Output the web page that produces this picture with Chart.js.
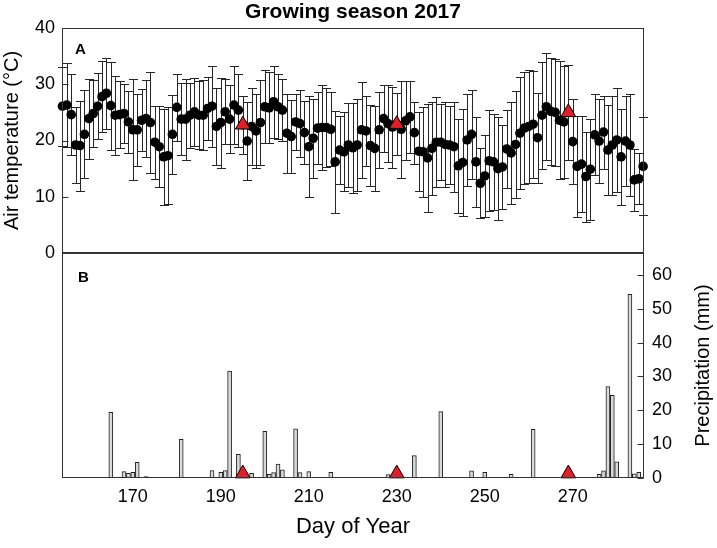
<!DOCTYPE html>
<html>
<head>
<meta charset="utf-8">
<script src="https://cdn.jsdelivr.net/npm/chart.js@4.4.1/dist/chart.umd.min.js"></script>
<style>
  body { margin: 0; background: #fff; }
  #wrap { position: relative; width: 717px; height: 548px; overflow: hidden; }
  canvas { position: absolute; left: 0; }
  #chartTemp { top: 0; }
  #chartRain { top: 235px; }
</style>
</head>
<body>
<div id="wrap">
  <canvas id="chartTemp" width="717" height="272"></canvas>
  <canvas id="chartRain" width="717" height="313"></canvas>
</div>
<script>
// daily mean air temperature, day 154 .. 286
const firstDay = 154;
const airTemp = [
  26.1, 26.3, 24.6, 19.2, 19.1, 21.1, 23.9, 24.8, 26.1, 27.8,
  28.4, 26.2, 24.5, 24.6, 24.8, 23.3, 21.9, 21.9, 23.6, 23.9,
  23.2, 19.7, 18.9, 17.1, 17.3, 21.1, 25.9, 23.8, 23.8, 24.5,
  25.1, 24.5, 24.5, 25.7, 26.1, 22.5, 23.2, 25.1, 23.8, 26.3,
  25.4, 22.8, 19.9, 22.5, 21.7, 23.2, 26.0, 25.8, 26.9, 26.0,
  25.4, 21.3, 20.7, 23.3, 23.0, 21.4, 18.9, 20.4, 22.2, 22.3,
  22.3, 22.0, 16.2, 18.3, 18.0, 19.2, 18.7, 19.2, 21.9, 21.7,
  19.1, 18.6, 21.9, 23.9, 23.0, 22.4, 22.9, 22.0, 23.5, 24.2,
  21.4, 18.1, 18.0, 16.9, 18.6, 19.7, 19.7, 19.3, 19.2, 18.9,
  15.5, 16.1, 20.1, 21.1, 16.2, 12.4, 13.7, 16.4, 16.2, 15.0,
  15.3, 18.5, 17.8, 19.3, 21.3, 22.2, 22.5, 22.9, 20.5, 24.5,
  26.0, 25.2, 25.0, 23.6, 23.3, 25.0, 19.8, 15.4, 15.8, 13.6,
  14.9, 21.0, 19.9, 21.5, 18.3, 19.2, 20.1, 17.1, 19.9, 19.2, 13.0, 13.2, 15.4
];
const airTempSd = [
  7.0, 7.4, 7.2, 6.8, 8.0, 7.8, 7.1, 6.0, 5.9, 6.3,
  6.3, 7.8, 7.0, 5.9, 5.2, 5.5, 9.0, 6.4, 5.5, 6.8,
  9.0, 6.5, 7.2, 8.5, 8.6, 7.0, 6.0, 6.4, 7.2, 5.8,
  6.1, 6.0, 6.2, 5.6, 7.2, 6.8, 8.0, 5.8, 6.0, 7.0,
  6.5, 5.2, 7.0, 6.9, 6.5, 7.6, 6.5, 6.3, 6.4, 5.8,
  5.5, 7.0, 6.5, 5.0, 6.0, 5.6, 9.0, 7.0, 6.4, 7.5,
  7.0, 6.6, 9.0, 6.0, 7.0, 7.5, 8.0, 8.2, 8.5, 6.3,
  7.2, 7.5, 6.8, 6.0, 6.8, 7.2, 5.5, 8.6, 7.0, 6.4,
  5.5, 7.0, 8.0, 9.6, 8.2, 8.0, 6.8, 7.5, 7.0, 8.0,
  8.3, 9.5, 8.1, 7.9, 8.0, 6.2, 7.3, 9.0, 8.5, 9.2,
  7.4, 7.0, 9.0, 9.5, 10.0, 10.0, 10.0, 9.5, 8.0, 9.5,
  9.5, 9.5, 9.5, 10.5, 10.0, 8.5, 7.5, 9.0, 8.5, 8.0,
  9.0, 7.2, 7.5, 6.5, 8.0, 8.8, 9.2, 8.5, 8.0, 9.0, 5.5, 4.5, 8.7
];

// sampling dates (red triangles)
const sampleDays = [195, 230, 269];
const sampleTemp = [22.8, 22.9, 25.0];
const markerRain = 1.3;

// daily precipitation (mm), days with rain only
const rainDays = [165, 167, 168, 169, 170, 171, 173, 180, 181, 188, 190, 191, 192, 194, 197,
  200, 201, 202, 203, 204, 207, 208, 210, 214, 215, 222, 223, 228, 234, 240, 247, 250, 256,
  261, 262, 276, 277, 278, 279, 280, 283, 284, 285];
const rainMm = [19.4, 0.3, 1.9, 1.4, 1.7, 4.6, 0.4, 0.2, 11.4, 2.2, 1.7, 2.2, 31.6, 7.0, 1.4,
  13.8, 1.1, 1.6, 4.1, 2.4, 14.5, 1.6, 1.9, 0.2, 1.7, 0.2, 0.2, 1.0, 6.6, 19.6, 2.1, 1.7, 1.1,
  14.4, 0.2, 1.1, 2.1, 27.0, 24.4, 4.8, 54.3, 1.2, 1.7];

const dayTicks = [170, 190, 210, 230, 250, 270];
const tempTicks = [0, 10, 20, 30, 40];
const rainTicks = [0, 10, 20, 30, 40, 50, 60];

const FONT = 'Arial, "Liberation Sans", sans-serif';
Chart.defaults.font.family = FONT;
Chart.defaults.color = '#000';

const days = airTemp.map((_, i) => firstDay + i);
const dayMin = 153.9, dayMax = 286.2;

// no extra room for edge labels, the layout padding decides the plot box
function noEdgePadding(s) {
  s.paddingTop = 0; s.paddingBottom = 0; s.paddingLeft = 0; s.paddingRight = 0;
}

// frame around the plot area, inward ticks and panel letter
const framePlugin = {
  id: 'frame',
  afterDraw(chart, args, opts) {
    const { ctx, chartArea: a } = chart;
    ctx.save();
    ctx.strokeStyle = '#333';
    ctx.lineWidth = 1;
    const l = Math.round(a.left) + 0.5, r = Math.round(a.right) - 0.5;
    const t = Math.round(a.top) + 0.5, b = Math.round(a.bottom) - 0.5;
    ctx.strokeRect(l, t, r - l, b - t);
    const sc = chart.scales[opts.axis];
    ctx.beginPath();
    sc.ticks.forEach(tk => {
      const py = Math.round(sc.getPixelForValue(tk.value)) + 0.5;
      if (opts.side === 'left') { ctx.moveTo(l, py); ctx.lineTo(l + 6, py); }
      else { ctx.moveTo(r, py); ctx.lineTo(r - 6, py); }
    });
    ctx.stroke();
    ctx.fillStyle = '#000';
    ctx.font = 'bold 15px ' + FONT;
    ctx.textBaseline = 'alphabetic';
    ctx.fillText(opts.letter, a.left + opts.dx, a.top + opts.dy);
    ctx.restore();
  }
};

// mean +/- sd bars
const errorBars = {
  id: 'errorBars',
  beforeDatasetsDraw(chart) {
    const { ctx, scales: { x, y } } = chart;
    ctx.save();
    ctx.strokeStyle = '#262626';
    ctx.lineWidth = 1;
    ctx.beginPath();
    airTemp.forEach((t, i) => {
      const px = Math.round(x.getPixelForValue(days[i])) + 0.5;
      const top = Math.round(y.getPixelForValue(t + airTempSd[i])) + 0.5;
      const bot = Math.round(y.getPixelForValue(t - airTempSd[i])) + 0.5;
      ctx.moveTo(px, top); ctx.lineTo(px, bot);
      ctx.moveTo(px - 4.5, top); ctx.lineTo(px + 4.5, top);
      ctx.moveTo(px - 4.5, bot); ctx.lineTo(px + 4.5, bot);
    });
    ctx.stroke();
    ctx.restore();
  }
};

// right axis title reads bottom to top
const rightTitle = {
  id: 'rightTitle',
  afterDraw(chart) {
    const { ctx } = chart;
    const s = chart.scales.y;
    ctx.save();
    ctx.translate(s.right - 14, (s.top + s.bottom) / 2);
    ctx.rotate(-Math.PI / 2);
    ctx.font = '20px ' + FONT;
    ctx.fillStyle = '#000';
    ctx.textAlign = 'center';
    ctx.textBaseline = 'middle';
    ctx.fillText('Precipitation (mm)', 0, 0);
    ctx.restore();
  }
};

new Chart(document.getElementById('chartTemp'), {
  type: 'scatter',
  data: {
    datasets: [
      {
        data: sampleDays.map((d, i) => ({ x: d, y: sampleTemp[i] })),
        pointStyle: 'triangle',
        pointRadius: 8.5,
        backgroundColor: '#e41e26',
        borderColor: '#000',
        borderWidth: 1,
        clip: false
      },
      {
        data: days.map((d, i) => ({ x: d, y: airTemp[i] })),
        pointRadius: 4.8,
        backgroundColor: '#000',
        borderColor: '#000',
        borderWidth: 0,
        clip: false
      }
    ]
  },
  options: {
    responsive: false,
    animation: false,
    layout: { autoPadding: false, padding: { left: 0, right: 73, top: 0, bottom: 19 } },
    plugins: {
      legend: { display: false },
      tooltip: { enabled: false },
      title: {
        display: true,
        fullSize: false,
        text: 'Growing season 2017',
        color: '#000',
        font: { size: 21, weight: 'bold' },
        padding: { top: 0, bottom: 2.8 }
      },
      frame: { axis: 'y', side: 'left', letter: 'A', dx: 13, dy: 26 }
    },
    scales: {
      x: { type: 'linear', display: false, min: dayMin, max: dayMax },
      y: {
        min: 0, max: 40,
        afterBuildTicks: s => { s.ticks = tempTicks.map(v => ({ value: v })); },
        afterFit: s => { s.width = 62; noEdgePadding(s); },
        grid: { display: false, drawTicks: false },
        border: { display: false },
        ticks: { font: { size: 18 }, padding: 7 },
        title: {
          display: true,
          text: 'Air temperature (°C)',
          font: { size: 20 },
          padding: { top: 0, bottom: 0 }
        }
      }
    }
  },
  plugins: [errorBars, framePlugin]
});

new Chart(document.getElementById('chartRain'), {
  type: 'bar',
  data: {
    datasets: [
      {
        type: 'scatter',
        data: sampleDays.map(d => ({ x: d, y: markerRain })),
        pointStyle: 'triangle',
        pointRadius: 8.5,
        backgroundColor: '#e41e26',
        borderColor: '#000',
        borderWidth: 1,
        clip: false
      },
      {
        data: rainDays.map((d, i) => ({ x: d, y: rainMm[i] })),
        backgroundColor: '#d9d9d9',
        borderColor: '#222',
        borderWidth: 1,
        barThickness: 4
      }
    ]
  },
  options: {
    responsive: false,
    animation: false,
    layout: { autoPadding: false, padding: { left: 62, right: 0, top: 18, bottom: 0 } },
    plugins: {
      legend: { display: false },
      tooltip: { enabled: false },
      frame: { axis: 'y', side: 'right', letter: 'B', dx: 16, dy: 29 }
    },
    scales: {
      x: {
        type: 'linear',
        min: dayMin, max: dayMax,
        offset: false,
        afterBuildTicks: s => { s.ticks = dayTicks.map(v => ({ value: v })); },
        afterFit: s => { s.height = 70; noEdgePadding(s); },
        grid: { display: false, drawTicks: false },
        border: { display: false },
        ticks: { font: { size: 18 }, padding: 8, autoSkip: false, maxRotation: 0 },
        title: {
          display: true,
          text: 'Day of Year',
          font: { size: 22 },
          padding: { top: 0, bottom: 8 }
        }
      },
      y: {
        position: 'right',
        min: 0, max: 66.5,
        afterBuildTicks: s => { s.ticks = rainTicks.map(v => ({ value: v })); },
        afterFit: s => { s.width = 73; noEdgePadding(s); },
        grid: { display: false, drawTicks: false },
        border: { display: false },
        ticks: { font: { size: 18 }, padding: 8 }
      }
    }
  },
  plugins: [framePlugin, rightTitle]
});
</script>
</body>
</html>
